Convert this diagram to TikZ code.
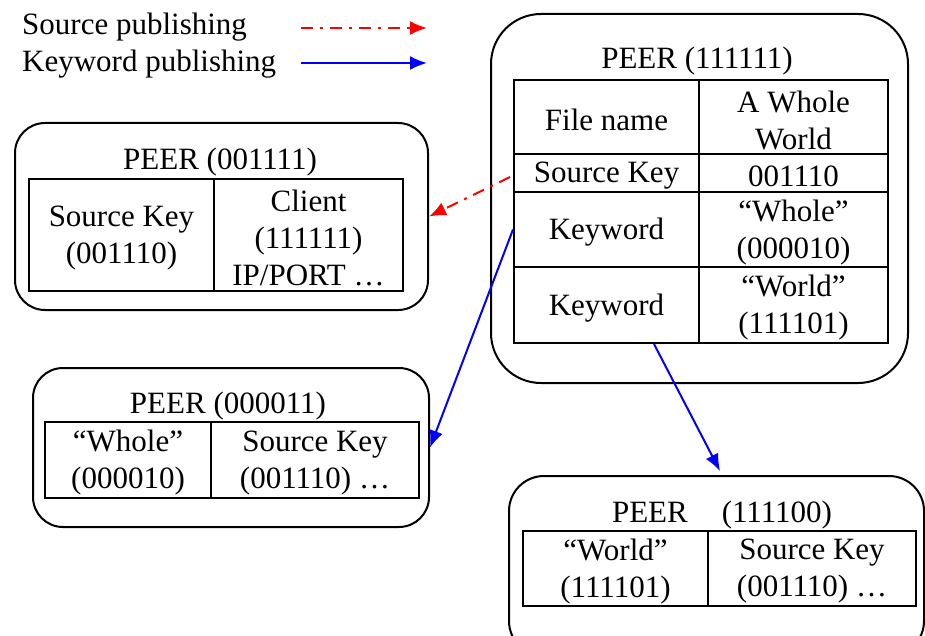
\documentclass[tikz,border=0pt]{standalone}
\usepackage{fontspec}
\setmainfont{Liberation Serif}
\usetikzlibrary{arrows.meta,calc}
\begin{document}
\begin{tikzpicture}[x=1pt,y=-1pt,
  every node/.style={font=\fontsize{31}{37}\selectfont},
  ctext/.style={inner sep=0pt, align=center, yshift=-3pt},
  cell/.style={draw, line width=2pt, fill=white, inner sep=0pt, anchor=north west, label={[ctext]center:{#1}}},
  rbox/.style={draw, line width=2pt, fill=white, rounded corners=#1, anchor=north west, inner sep=0pt},
  rbox/.default=30pt,
  ttl/.style={anchor=base, inner sep=0pt},
  legend/.style={anchor=base west, inner sep=0pt},
  srcarrow/.style={red, line width=2pt, dash pattern=on 12pt off 7pt on 3pt off 7pt, -{Latex[length=17pt,width=14pt]}},
  kwarrow/.style={blue, line width=2pt, -{Latex[length=17pt,width=14pt]}}]
\clip (0,0) rectangle (925,636);
% legend
\node[legend] (l1) at (22,35) {Source publishing};
\node[legend] (l2) at (22,72) {Keyword publishing};
\coordinate (l1a) at (301,28); \coordinate (l1b) at (427,28);
\coordinate (l2a) at (301,63); \coordinate (l2b) at (427,63);
\draw[srcarrow] (l1a) -- (l1b);
\draw[kwarrow] (l2a) -- (l2b);
% peer 111111
\node[rbox=50pt, minimum width=417, minimum height=369] (p1) at (490,13) {};
\node[ttl] (t1) at (697,69) {PEER (111111)};
\node[cell={File name}, minimum width=185, minimum height=74] (fn) at (513,79) {};
\node[cell={A Whole\\World}, minimum width=189, minimum height=74] (fv) at (698,79) {};
\node[cell={Source Key}, minimum width=185, minimum height=38] (sk) at (513,153) {};
\node[cell={001110}, minimum width=189, minimum height=38] (sv) at (698,153) {};
\node[cell={Keyword}, minimum width=185, minimum height=75] (kw1) at (513,191) {};
\node[cell={“Whole”\\(000010)}, minimum width=189, minimum height=75] (kv1) at (698,191) {};
\node[cell={Keyword}, minimum width=185, minimum height=76] (kw2) at (513,266) {};
\node[cell={“World”\\(111101)}, minimum width=189, minimum height=76] (kv2) at (698,266) {};
% peer 001111
\node[rbox=30pt, minimum width=413, minimum height=187] (p2) at (14,122) {};
\node[ttl] (t2) at (220,170) {PEER (001111)};
\node[cell={Source Key\\(001110)}, minimum width=185, minimum height=112] (c2a) at (28,178) {};
\node[cell={Client\\(111111)\\IP/PORT …}, minimum width=189, minimum height=112] (c2b) at (213,178) {};
% peer 000011
\node[rbox=30pt, minimum width=396, minimum height=159] (p3) at (32,367) {};
\node[ttl] (t3) at (228,413) {PEER (000011)};
\node[cell={“Whole”\\(000010)}, minimum width=166, minimum height=76] (c3a) at (44,421) {};
\node[cell={Source Key\\(001110) …}, minimum width=208, minimum height=76] (c3b) at (210,421) {};
% peer 111100
\node[rbox=35pt, minimum width=415, minimum height=180] (p4) at (508,475) {};
\node[ttl] (t4) at (722,522) {PEER\hspace{34pt}(111100)};
\node[cell={“World”\\(111101)}, minimum width=185, minimum height=75] (c4a) at (522,530) {};
\node[cell={Source Key\\(001110) …}, minimum width=208, minimum height=75] (c4b) at (707,530) {};
% connectors
\coordinate (rs) at (510,177);
\draw[srcarrow] (rs) -- (p2.east);
\draw[kwarrow] (kw1.west) -- (p3.east);
\coordinate (e4) at (720,471);
\draw[kwarrow] ($(kw2.south west)!0.754!(kw2.south east)$) -- (e4);
\end{tikzpicture}
\end{document}
